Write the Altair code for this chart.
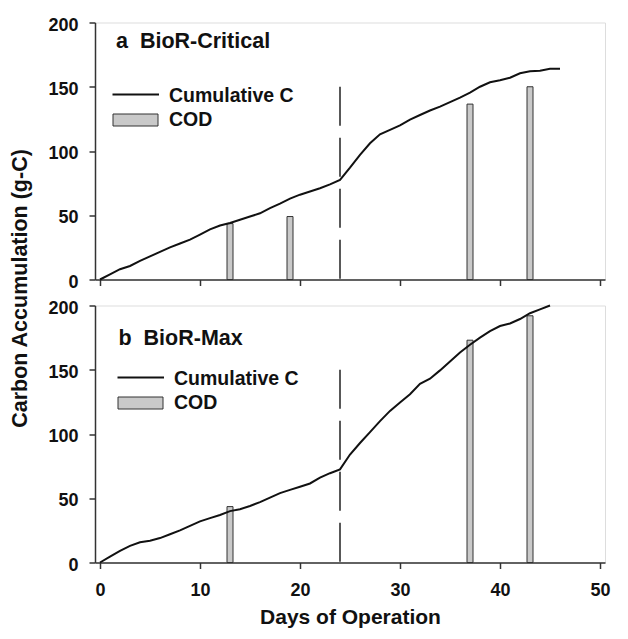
import altair as alt
import pandas as pd

# ---- data ----
days_a = list(range(0, 47))
cum_a = [0, 4, 8, 10.5, 14.5, 18, 21.5, 25, 28, 31, 35, 39, 42, 44, 46.5, 49, 51.5, 55.5,
         59, 63, 66, 68.5, 71, 74, 77.5, 87, 97, 106, 113, 116.5, 120, 124.5, 128, 131.5,
         134.5, 138, 141.5, 145.5, 150, 153.5, 155, 157, 160.5, 162, 162.5, 164, 164]
cod_days_a = [13, 19, 37, 43]
cod_a = [43.5, 49, 136.5, 150]

days_b = list(range(0, 46))
cum_b = [0, 4.5, 9, 13, 15.8, 17, 19, 22, 25, 28.5, 32, 34.5, 37, 40, 41.5, 44, 47, 50.5,
         54, 56.5, 59, 61.5, 66, 69.5, 72.5, 84, 93, 101.5, 110, 118, 124.5, 131, 139, 143,
         149.5, 156.5, 163.5, 169.5, 175, 180, 184, 186, 189.5, 194, 197, 200]
cod_days_b = [13, 37, 43]
cod_b = [43.5, 173, 192]

switch_day = [24]
switch_top = [150]

panel_titles = ["a\u00a0\u00a0BioR-Critical", "b\u00a0\u00a0BioR-Max"]
legend_labels = ["Cumulative C", "COD"]
x_title = "Days of Operation"
y_title = "Carbon Accumulation (g-C)"

FONT = "Liberation Sans"
W, H = 510, 257
BAR_FILL = "#c9c9c9"
BAR_STROKE = "#333333"


def panel(days, cum, cod_days, cod, title, title_dx, title_y, legend_dx,
          show_x_labels, show_y_title):
    line_df = pd.DataFrame({"day": days, "c": cum})
    bar_df = pd.DataFrame({"day": cod_days, "cod": cod})
    rule_df = pd.DataFrame({"day": switch_day, "top": switch_top, "bottom": [0]})
    one = pd.DataFrame({"k": [0]})

    xaxis = alt.Axis(
        values=[0, 10, 20, 30, 40, 50], labels=show_x_labels, grid=False,
        title=x_title if show_x_labels else None, labelFontSize=18, labelFont=FONT,
        labelFontWeight="bold", labelColor="#111", labelPadding=13, labelFlush=False,
        titleFontSize=21, titleFont=FONT, titleFontWeight="bold", titleColor="#111",
        titlePadding=7, tickSize=6, tickColor="#333", domainColor="#333",
        domainWidth=1.5, tickWidth=1.5,
    )
    yargs = dict(
        values=[0, 50, 100, 150, 200], grid=False, labelFontSize=18, labelFont=FONT,
        labelFontWeight="bold", labelColor="#111", labelPadding=11, labelOffset=2.5,
        tickSize=6, tickColor="#333", domainColor="#333", domainWidth=1.5, tickWidth=1.5,
    )
    if show_y_title:
        yargs.update(title=y_title, titleFontSize=21.5, titleFont=FONT,
                     titleFontWeight="bold", titleColor="#111", titleAngle=270,
                     titleX=-75, titleY=265.5, titleAlign="center", titleBaseline="middle")
    else:
        yargs.update(title=None)
    yaxis = alt.Axis(**yargs)

    xs = alt.Scale(domain=[0, 50], nice=False, zero=True)
    ys = alt.Scale(domain=[0, 200], nice=False)

    bars = alt.Chart(bar_df).mark_bar(size=6, fill=BAR_FILL, stroke=BAR_STROKE,
                                      strokeWidth=1).encode(
        x=alt.X("day:Q", scale=xs, axis=xaxis),
        y=alt.Y("cod:Q", scale=ys, axis=yaxis),
    )
    line = alt.Chart(line_df).mark_line(color="#111", strokeWidth=2).encode(
        x=alt.X("day:Q", scale=xs), y=alt.Y("c:Q", scale=ys))
    rule = alt.Chart(rule_df).mark_rule(color="#222", strokeWidth=1.5,
                                        strokeDash=[39, 12]).encode(
        x=alt.X("day:Q", scale=xs), y=alt.Y("top:Q", scale=ys), y2="bottom:Q")

    ttl = alt.Chart(one).mark_text(align="left", baseline="alphabetic", fontSize=21.5,
                                   font=FONT, fontWeight="bold", color="#111").encode(
        x=alt.value(21 + title_dx), y=alt.value(title_y), text=alt.value(title))
    leg_line = alt.Chart(one).mark_rule(color="#111", strokeWidth=2).encode(
        x=alt.value(17.5 + legend_dx), x2=alt.value(64 + legend_dx), y=alt.value(72))
    leg_box = alt.Chart(one).mark_rect(fill=BAR_FILL, stroke=BAR_STROKE,
                                       strokeWidth=1).encode(
        x=alt.value(18 + legend_dx), x2=alt.value(63 + legend_dx),
        y=alt.value(91.5), y2=alt.value(103.5))
    leg_t1 = alt.Chart(one).mark_text(align="left", baseline="middle", fontSize=19.5,
                                      font=FONT, fontWeight="bold", color="#111").encode(
        x=alt.value(74 + legend_dx), y=alt.value(73), text=alt.value(legend_labels[0]))
    leg_t2 = alt.Chart(one).mark_text(align="left", baseline="middle", fontSize=19.5,
                                      font=FONT, fontWeight="bold", color="#111").encode(
        x=alt.value(74 + legend_dx), y=alt.value(97.5), text=alt.value(legend_labels[1]))

    return alt.layer(bars, rule, line, ttl, leg_line, leg_box, leg_t1, leg_t2).properties(
        width=W, height=H)


top = panel(days_a, cum_a, cod_days_a, cod_a, panel_titles[0], 0, 25, 0, False, True)
bottom = panel(days_b, cum_b, cod_days_b, cod_b, panel_titles[1], 2.5, 39, 5, True, False)

chart = alt.vconcat(top, bottom, spacing=26, bounds="flush").properties(
    padding={"left": 0, "top": 7.5, "right": 0, "bottom": 0}
).configure_view(stroke=None).configure(background="white")

chart.save("out.html", embed_options={"renderer": "svg", "actions": False})
